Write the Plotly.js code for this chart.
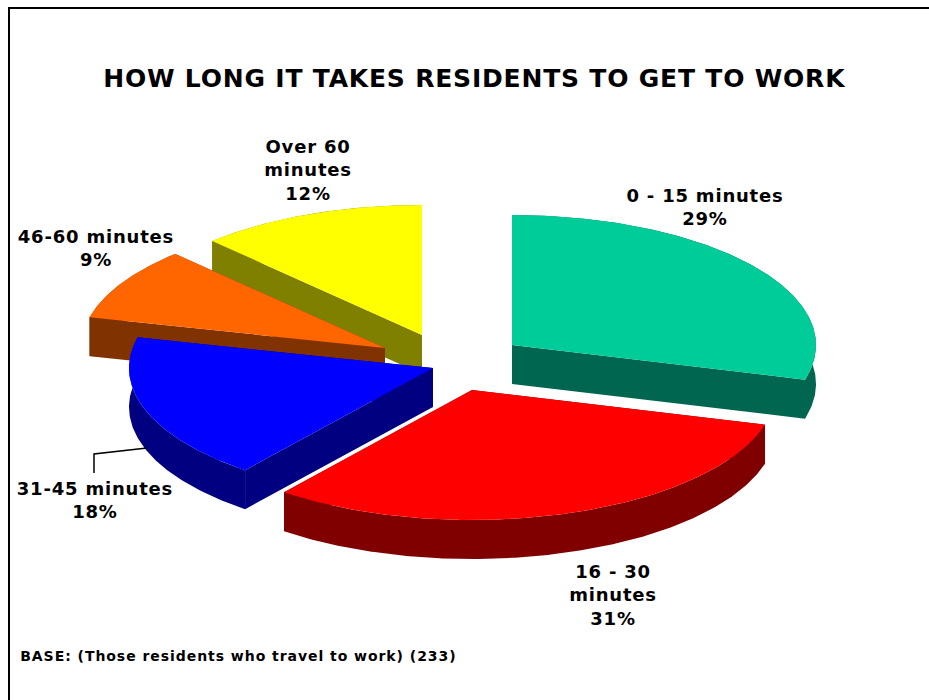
<!DOCTYPE html>
<html>
<head>
<meta charset="utf-8">
<script src="https://cdn.plot.ly/plotly-3.0.1.min.js"></script>
<style>
html,body{margin:0;padding:0;background:#fff}
#chart{width:929px;height:700px}
/* Wider tracking for the bold labels */
.annotation text{letter-spacing:.8px}
.annotation[data-index="6"] text{letter-spacing:.95px}
</style>
</head>
<body>
<div id="chart"></div>
<script>
// Survey results
const categories = ['0 - 15 minutes', '16 - 30 minutes', '31-45 minutes', '46-60 minutes', 'Over 60 minutes'];
const labelLines = ['0 - 15 minutes', '16 - 30<br>minutes', '31-45 minutes', '46-60 minutes', 'Over 60<br>minutes'];
const shares = [29, 31, 18, 9, 12];

// Slice colours: upper face and darker side wall
const topColours = ['#00CC99', '#FF0000', '#0000FF', '#FF6600', '#FFFF00'];
const wallColours = ['#006650', '#800000', '#000080', '#803300', '#808000'];

// Projection of the tilted disc, in page units
const RX = 304, RY = 130, DEPTH = 39;
// Apex of each pulled-apart slice
const apexX = [512, 472, 433, 385, 422];
const apexY = [345, 390, 368, 348, 335];
// Label anchors
const labelX = [705, 613, 95, 96, 308];
const labelY = [207, 595, 500, 248, 170];

const total = shares.reduce((a, b) => a + b, 0);
const FONT = '"DejaVu Sans", Verdana, sans-serif';

function rim(i, from, to, drop) {
  const pts = [];
  const n = Math.max(2, Math.ceil((to - from) / 0.01));
  for (let k = 0; k <= n; k++) {
    const a = from + (to - from) * k / n;
    pts.push([apexX[i] + RX * Math.sin(a), apexY[i] - RY * Math.cos(a) + drop]);
  }
  return pts;
}

function face(ring, colour, name) {
  const closed = ring.concat([ring[0]]);
  return {
    type: 'scatter', mode: 'lines', x: closed.map(p => p[0]), y: closed.map(p => p[1]), name,
    fill: 'toself', fillcolor: colour, line: { width: 0, color: colour },
    hoverinfo: 'skip', showlegend: false
  };
}

// Sweep clockwise from twelve o'clock, one slice per share
const starts = [];
let running = 0;
shares.forEach(v => { starts.push(running / total * 2 * Math.PI); running += v; });

const slices = shares.map((v, i) => {
  const a0 = starts[i];
  const a1 = a0 + v / total * 2 * Math.PI;
  const apex = [apexX[i], apexY[i]];
  const apexLow = [apexX[i], apexY[i] + DEPTH];
  const upper = rim(i, a0, a1, 0);
  const lower = rim(i, a0, a1, DEPTH);
  const wall = categories[i] + ' wall';
  return [
    face([apex, upper[0], lower[0], apexLow], wallColours[i], wall),
    face([apex, upper[upper.length - 1], lower[lower.length - 1], apexLow], wallColours[i], wall),
    face(upper.concat(lower.slice().reverse()), wallColours[i], wall),
    face([apex].concat(upper), topColours[i], categories[i])
  ];
});

// Back slices first so nearer ones overlap them
const paintOrder = [4, 3, 2, 0, 1];
const traces = [];
paintOrder.forEach(i => traces.push(...slices[i]));

// Leader line for the 31-45 minutes label
traces.push({
  type: 'scatter', mode: 'lines', x: [94, 94, 147], y: [473, 454, 448],
  line: { color: '#000', width: 1.5 }, hoverinfo: 'skip', showlegend: false
});

const annotations = shares.map((v, i) => ({
  x: labelX[i], y: labelY[i], xref: 'x', yref: 'y', showarrow: false,
  xanchor: 'center', yanchor: 'middle', align: 'center',
  text: '<b>' + labelLines[i] + '<br>' + v + '%</b>',
  font: { family: FONT, size: 18, color: '#000' }
}));
annotations.push({
  x: 475, y: 78, xref: 'x', yref: 'y', showarrow: false, xanchor: 'center', yanchor: 'middle',
  text: '<b>HOW LONG IT TAKES RESIDENTS TO GET TO WORK</b>',
  font: { family: FONT, size: 25, color: '#000' }
});
annotations.push({
  x: 238, y: 656, xref: 'x', yref: 'y', showarrow: false, xanchor: 'center', yanchor: 'middle',
  text: '<b>BASE: (Those residents who travel to work) (233)</b>',
  font: { family: FONT, size: 14, color: '#000' }
});

const layout = {
  width: 929, height: 700,
  margin: { l: 0, r: 0, t: 0, b: 0 },
  paper_bgcolor: '#fff', plot_bgcolor: '#fff',
  xaxis: { range: [0, 929], visible: false, fixedrange: true },
  yaxis: { range: [700, 0], visible: false, fixedrange: true },
  annotations,
  shapes: [
    { type: 'line', xref: 'paper', yref: 'paper', x0: 9 / 929, x1: 9 / 929, y0: 0, y1: 692 / 700, line: { color: '#000', width: 2 } },
    { type: 'line', xref: 'paper', yref: 'paper', x0: 8 / 929, x1: 1, y0: 692 / 700, y1: 692 / 700, line: { color: '#000', width: 2 } }
  ],
  showlegend: false
};

Plotly.newPlot('chart', traces, layout, { displayModeBar: false, staticPlot: true });
</script>
</body>
</html>
